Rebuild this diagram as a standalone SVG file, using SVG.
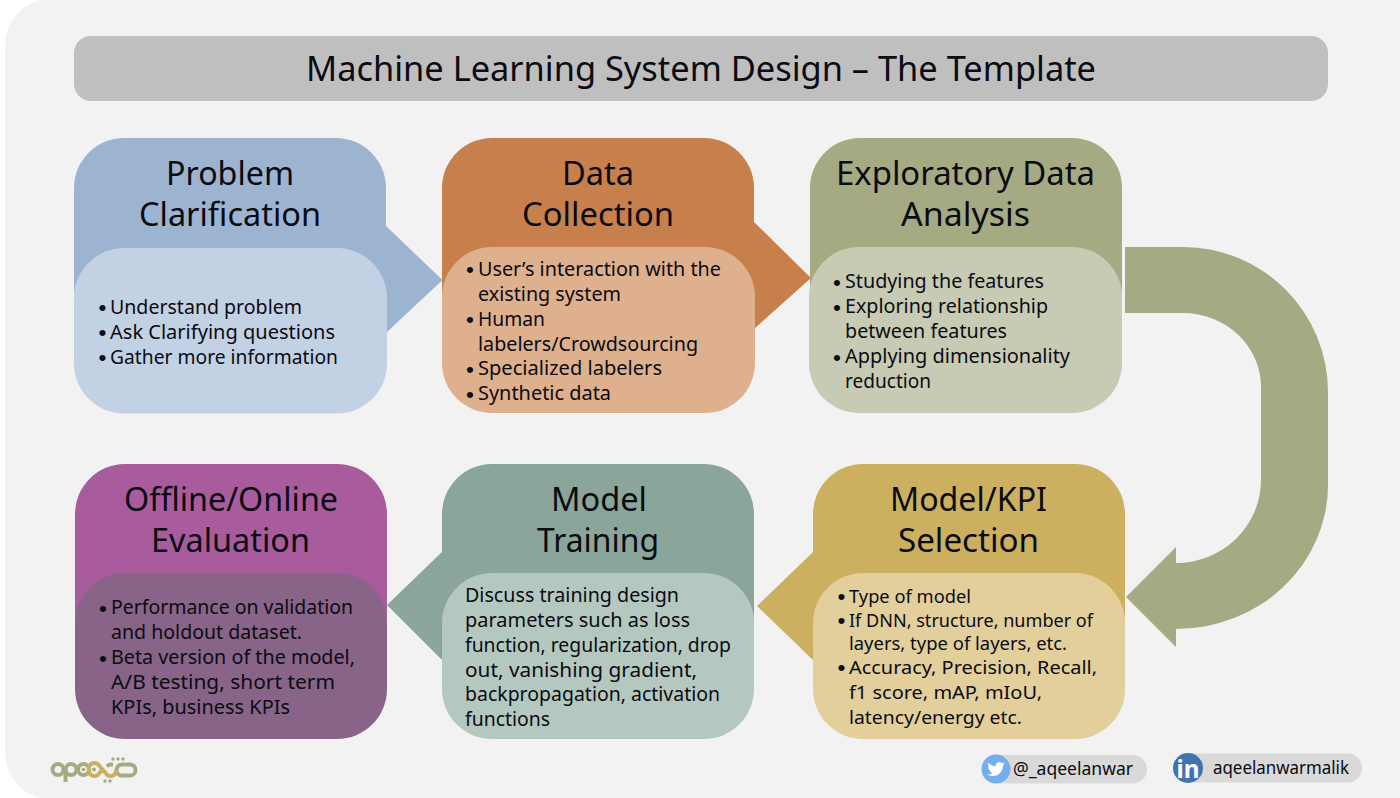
<svg xmlns="http://www.w3.org/2000/svg" width="1400" height="798" viewBox="0 0 1400 798">
<style>
text{font-family:"Noto Sans","Open Sans",sans-serif;fill:#0b0b12}
.h{font-size:32px}
.b{font-size:19.5px}
.k{font-size:17.8px}
.s{font-size:17.5px}
.blt{font-size:22.500px;font-family:"Liberation Sans",sans-serif}
</style>
<rect width="1400" height="798" fill="#ffffff"/>
<rect x="5" y="-2" width="1440" height="802" rx="48" fill="#f2f2f2"/>
<g id="title">
<rect x="74" y="36" width="1254" height="65" rx="17" fill="#bfbfbf"/>
<text x="306" y="81" font-size="35" textLength="790" lengthAdjust="spacingAndGlyphs">Machine Learning System Design – The Template</text>
</g>
<g id="connectors">
<polygon points="380,220 386,226 442.500,280 387,332 380,332" fill="#9db4d1"/>
<polygon points="748,216 754,222 811,278 755,328 748,328" fill="#c77f4c"/>
<polygon points="448,552 442,552 387,605 442,660 448,660" fill="#8aa69a"/>
<polygon points="819,552 813,552 757,606 813,660 819,660" fill="#ccb05f"/>
<path d="M1125 247H1183A145 145 0 0 1 1328 392V485A152 144 0 0 1 1176 629V647L1126 597L1176 547V563A85 83 0 0 0 1261 480V387A78 74 0 0 0 1183 313H1125Z" fill="#a6aa82"/>
</g>
<g id="problem-clarification">
<rect x="74" y="138" width="312" height="200" rx="50" fill="#9db4d1"/>
<rect x="74" y="248" width="313" height="165.500" rx="50" fill="#c3d1e5"/>
<text class="h" x="166" y="185" textLength="128" lengthAdjust="spacingAndGlyphs">Problem</text>
<text class="h" x="139" y="226" textLength="182" lengthAdjust="spacingAndGlyphs">Clarification</text>
<text y="313.500"><tspan class="blt" x="98.500" dy="1.500">•</tspan><tspan class="b" x="110" dy="-1.500" textLength="192" lengthAdjust="spacingAndGlyphs">Understand problem</tspan></text>
<text y="338.500"><tspan class="blt" x="98.500" dy="1.500">•</tspan><tspan class="b" x="110" dy="-1.500" textLength="225" lengthAdjust="spacingAndGlyphs">Ask Clarifying questions</tspan></text>
<text y="363.500"><tspan class="blt" x="98.500" dy="1.500">•</tspan><tspan class="b" x="110" dy="-1.500" textLength="228" lengthAdjust="spacingAndGlyphs">Gather more information</tspan></text>
</g>
<g id="data-collection">
<rect x="442" y="138" width="312" height="200" rx="50" fill="#c77f4c"/>
<rect x="442" y="247" width="313" height="166" rx="50" fill="#deb08e"/>
<text class="h" x="562" y="185" textLength="72" lengthAdjust="spacingAndGlyphs">Data</text>
<text class="h" x="522" y="226" textLength="152" lengthAdjust="spacingAndGlyphs">Collection</text>
<text y="275.500"><tspan class="blt" x="466" dy="1.500">•</tspan><tspan class="b" x="478" dy="-1.500" textLength="243" lengthAdjust="spacingAndGlyphs">User’s interaction with the</tspan></text>
<text class="b" x="478" y="300.500" textLength="143" lengthAdjust="spacingAndGlyphs">existing system</text>
<text y="325.500"><tspan class="blt" x="466" dy="1.500">•</tspan><tspan class="b" x="478" dy="-1.500" textLength="67" lengthAdjust="spacingAndGlyphs">Human</tspan></text>
<text class="b" x="478" y="350.500" textLength="220" lengthAdjust="spacingAndGlyphs">labelers/Crowdsourcing</text>
<text y="375"><tspan class="blt" x="466" dy="1.500">•</tspan><tspan class="b" x="478" dy="-1.500" textLength="184" lengthAdjust="spacingAndGlyphs">Specialized labelers</tspan></text>
<text y="400"><tspan class="blt" x="466" dy="1.500">•</tspan><tspan class="b" x="478" dy="-1.500" textLength="133" lengthAdjust="spacingAndGlyphs">Synthetic data</tspan></text>
</g>
<g id="exploratory-data-analysis">
<rect x="810" y="138" width="312" height="200" rx="50" fill="#a6aa82"/>
<rect x="809" y="247" width="313" height="166" rx="50" fill="#c8cbb3"/>
<text class="h" x="836" y="185" textLength="259" lengthAdjust="spacingAndGlyphs">Exploratory Data</text>
<text class="h" x="901" y="226" textLength="129" lengthAdjust="spacingAndGlyphs">Analysis</text>
<text y="288"><tspan class="blt" x="833" dy="1.500">•</tspan><tspan class="b" x="845" dy="-1.500" textLength="199" lengthAdjust="spacingAndGlyphs">Studying the features</tspan></text>
<text y="313"><tspan class="blt" x="833" dy="1.500">•</tspan><tspan class="b" x="845" dy="-1.500" textLength="203" lengthAdjust="spacingAndGlyphs">Exploring relationship</tspan></text>
<text class="b" x="845" y="338" textLength="162" lengthAdjust="spacingAndGlyphs">between features</text>
<text y="363"><tspan class="blt" x="833" dy="1.500">•</tspan><tspan class="b" x="845" dy="-1.500" textLength="225" lengthAdjust="spacingAndGlyphs">Applying dimensionality</tspan></text>
<text class="b" x="845" y="388" textLength="86" lengthAdjust="spacingAndGlyphs">reduction</text>
</g>
<g id="model-kpi-selection">
<rect x="813" y="464" width="312" height="200" rx="50" fill="#ccb05f"/>
<rect x="813" y="573" width="312" height="166" rx="50" fill="#e2cf9b"/>
<text class="h" x="890" y="511" textLength="157" lengthAdjust="spacingAndGlyphs">Model/KPI</text>
<text class="h" x="898" y="552" textLength="141" lengthAdjust="spacingAndGlyphs">Selection</text>
<text y="603"><tspan class="blt" x="837.500" dy="1">•</tspan><tspan class="k" x="849" dy="-1" textLength="122" lengthAdjust="spacingAndGlyphs">Type of model</tspan></text>
<text y="626.500"><tspan class="blt" x="837.500" dy="1">•</tspan><tspan class="k" x="849" dy="-1" textLength="244" lengthAdjust="spacingAndGlyphs">If DNN, structure, number of</tspan></text>
<text class="k" x="849" y="650" textLength="218" lengthAdjust="spacingAndGlyphs">layers, type of layers, etc.</text>
<text y="674"><tspan class="blt" x="837.500" dy="1">•</tspan><tspan class="k" x="849" dy="-1" textLength="248" lengthAdjust="spacingAndGlyphs">Accuracy, Precision, Recall,</tspan></text>
<text class="k" x="849" y="699" textLength="193" lengthAdjust="spacingAndGlyphs">f1 score, mAP, mIoU,</text>
<text class="k" x="849" y="723.500" textLength="173" lengthAdjust="spacingAndGlyphs">latency/energy etc.</text>
</g>
<g id="model-training">
<rect x="442" y="464" width="312" height="200" rx="50" fill="#8aa69a"/>
<rect x="442" y="573" width="312" height="166" rx="50" fill="#b5c8c0"/>
<text class="h" x="551" y="511" textLength="96" lengthAdjust="spacingAndGlyphs">Model</text>
<text class="h" x="537" y="552" textLength="122" lengthAdjust="spacingAndGlyphs">Training</text>
<text class="b" x="465" y="601.500" textLength="214" lengthAdjust="spacingAndGlyphs">Discuss training design</text>
<text class="b" x="465" y="626.500" textLength="225" lengthAdjust="spacingAndGlyphs">parameters such as loss</text>
<text class="b" x="465" y="651.500" textLength="266" lengthAdjust="spacingAndGlyphs">function, regularization, drop</text>
<text class="b" x="465" y="676.500" textLength="232" lengthAdjust="spacingAndGlyphs">out, vanishing gradient,</text>
<text class="b" x="465" y="701" textLength="255" lengthAdjust="spacingAndGlyphs">backpropagation, activation</text>
<text class="b" x="465" y="726" textLength="85" lengthAdjust="spacingAndGlyphs">functions</text>
</g>
<g id="offline-online-evaluation">
<rect x="75" y="464" width="312" height="200" rx="50" fill="#a85c9d"/>
<rect x="75" y="573" width="312" height="166" rx="50" fill="#886488"/>
<text class="h" x="124" y="511" textLength="214" lengthAdjust="spacingAndGlyphs">Offline/Online</text>
<text class="h" x="151" y="552" textLength="159" lengthAdjust="spacingAndGlyphs">Evaluation</text>
<text y="614"><tspan class="blt" x="99" dy="1.500">•</tspan><tspan class="b" x="111" dy="-1.500" textLength="242" lengthAdjust="spacingAndGlyphs">Performance on validation</tspan></text>
<text class="b" x="111" y="639" textLength="191" lengthAdjust="spacingAndGlyphs">and holdout dataset.</text>
<text y="664"><tspan class="blt" x="99" dy="1.500">•</tspan><tspan class="b" x="111" dy="-1.500" textLength="244" lengthAdjust="spacingAndGlyphs">Beta version of the model,</tspan></text>
<text class="b" x="111" y="689" textLength="224" lengthAdjust="spacingAndGlyphs">A/B testing, short term</text>
<text class="b" x="111" y="714" textLength="179" lengthAdjust="spacingAndGlyphs">KPIs, business KPIs</text>
</g>
<g id="logo" fill="none" stroke-width="4">
<g stroke="#a6aa82">
<circle cx="58" cy="769.500" r="5.500"/><circle cx="71" cy="769.500" r="5.500"/><path d="M65.500 769.500V782"/><circle cx="83.500" cy="769.500" r="5.500"/>
<path d="M128 764.500H122a5.500 5.500 0 0 0 0 11h8a5.500 5.500 0 0 0 0 -11h-2"/>
<path d="M113 764.500h-2a5.500 5.500 0 0 0 -4 2"/>
</g>
<path d="M89 769.500a5.500 5.500 0 0 1 10 -4l7 8a5.500 5.500 0 0 0 10 -4M89 769.500a5.500 5.500 0 0 0 10 4l3 -3" stroke="#ccb05f"/>
<g fill="#a6aa82" stroke="none">
<circle cx="83.500" cy="769.500" r="1.800"/><circle cx="94" cy="769.500" r="2"/>
<circle cx="113" cy="759" r="1.700"/><circle cx="118" cy="759" r="1.700"/><circle cx="123" cy="759" r="1.700"/>
<circle cx="105" cy="781" r="1.700"/><circle cx="110" cy="781" r="1.700"/>
</g>
</g>
<g id="twitter">
<rect x="985" y="755" width="162" height="28.500" rx="14.250" fill="#d9d9d9"/>
<circle cx="996" cy="769" r="14.500" fill="#75aeee"/>
<path transform="translate(987.400 760.400) scale(.72)" fill="#fff" d="M23.953 4.57a10 10 0 01-2.825.775 4.958 4.958 0 002.163-2.723c-.951.555-2.005.959-3.127 1.184a4.92 4.92 0 00-8.384 4.482C7.69 8.095 4.067 6.13 1.64 3.162a4.822 4.822 0 00-.666 2.475c0 1.71.87 3.213 2.188 4.096a4.904 4.904 0 01-2.228-.616v.06a4.923 4.923 0 003.946 4.827 4.996 4.996 0 01-2.212.085 4.936 4.936 0 004.604 3.417 9.867 9.867 0 01-6.102 2.105c-.39 0-.779-.023-1.17-.067a13.995 13.995 0 007.557 2.209c9.053 0 13.998-7.496 13.998-13.985 0-.21 0-.42-.015-.63A9.935 9.935 0 0024 4.59z"/>
<text class="s" x="1013" y="775" textLength="120" lengthAdjust="spacingAndGlyphs">@_aqeelanwar</text>
</g>
<g id="linkedin">
<rect x="1175" y="753.500" width="187" height="29" rx="14.500" fill="#d9d9d9"/>
<circle cx="1188" cy="768" r="15" fill="#3e75b0"/>
<text x="1176.500" y="778" font-size="25" font-weight="700" style="fill:#fff" textLength="23" lengthAdjust="spacingAndGlyphs">in</text>
<text class="s" x="1213" y="774" textLength="136" lengthAdjust="spacingAndGlyphs">aqeelanwarmalik</text>
</g>
</svg>
